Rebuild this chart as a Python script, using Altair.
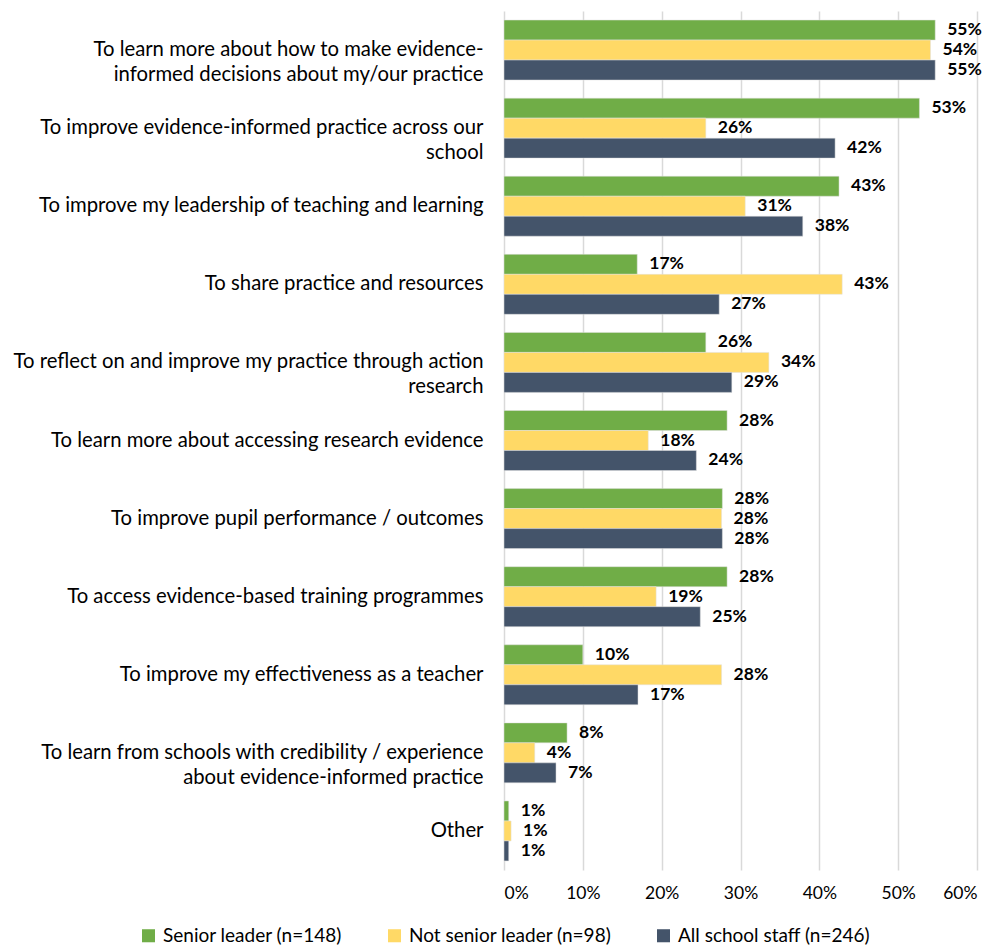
import altair as alt
import pandas as pd

categories = [
    "To learn more about how to make evidence-|informed decisions about my/our practice",
    "To improve evidence-informed practice across our|school",
    "To improve my leadership of teaching and learning",
    "To share practice and resources",
    "To reflect on and improve my practice through action|research",
    "To learn more about accessing research evidence",
    "To improve pupil performance / outcomes",
    "To access evidence-based training programmes",
    "To improve my effectiveness as a teacher",
    "To learn from schools with credibility / experience|about evidence-informed practice",
    "Other",
]
series = ["Senior leader (n=148)", "Not senior leader (n=98)", "All school staff (n=246)"]
senior = [54.7, 52.7, 42.5, 16.9, 25.6, 28.3, 27.7, 28.3, 10.0, 8.0, 0.6]
not_senior = [54.1, 25.6, 30.6, 42.9, 33.6, 18.3, 27.6, 19.3, 27.6, 3.9, 0.9]
all_staff = [54.7, 42.0, 37.9, 27.3, 28.9, 24.4, 27.7, 24.9, 17.0, 6.6, 0.6]
colors = ["#70AD47", "#FFD966", "#44546A"]

rows = []
for s, vals in zip(series, [senior, not_senior, all_staff]):
    for c, v in zip(categories, vals):
        rows.append({"category": c, "series": s, "value": v / 100.0})
df = pd.DataFrame(rows)

FONT = "Lato"

y_enc = alt.Y(
    "category:N",
    sort=categories,
    scale=alt.Scale(paddingInner=0.232, paddingOuter=0.116),
    axis=alt.Axis(
        title=None,
        labelExpr="split(datum.label, '|')",
        labelFont=FONT,
        labelFontSize=20.3,
        labelColor="#000000",
        labelLineHeight=25,
        labelPadding=21,
        labelAlign="right",
        ticks=False,
        domain=False,
        labelLimit=600,
    ),
)
yoff = alt.YOffset("series:N", sort=series)
x_enc = alt.X(
    "value:Q",
    scale=alt.Scale(domain=[0, 0.6], nice=False),
    axis=alt.Axis(
        title=None,
        format=".0%",
        values=[0, 0.1, 0.2, 0.3, 0.4, 0.5, 0.6],
        labelFont=FONT,
        labelFontSize=17.5,
        labelColor="#000000",
        labelPadding=14,
        ticks=False,
        domain=False,
        grid=True,
        gridColor="#D9D9D9",
        gridWidth=1.5,
    ),
)
color_enc = alt.Color(
    "series:N",
    sort=series,
    scale=alt.Scale(domain=series, range=colors),
    legend=alt.Legend(
        title=None,
        orient="none",
        direction="horizontal",
        legendX=-365,
        legendY=915,
        symbolType="square",
        symbolSize=170,
        symbolStrokeWidth=0,
        labelFont=FONT,
        labelFontSize=19,
        labelColor="#000000",
        labelOffset=5,
        columnPadding=42,
        labelLimit=400,
    ),
)

bars = alt.Chart(df).mark_bar(stroke="#E0E0E0", strokeWidth=0.5).encode(
    y=y_enc, yOffset=yoff, x=x_enc, color=color_enc
)
labels = alt.Chart(df).mark_text(
    align="left", baseline="middle", dx=12, font=FONT, fontSize=17.5, fontWeight="bold", color="#000000"
).encode(
    y=alt.Y("category:N", sort=categories),
    yOffset=yoff,
    x="value:Q",
    text=alt.Text("value:Q", format=".0%"),
)

chart = (
    alt.layer(bars, labels)
    .properties(
        width=473,
        height=859,
        padding={"left": 504, "top": 11, "right": 17, "bottom": 75},
        autosize=alt.AutoSizeParams(type="none"),
        background="#FFFFFF",
    )
    .configure_view(stroke=None)
)

chart.save("out.html", embed_options={"renderer": "svg", "actions": False})
